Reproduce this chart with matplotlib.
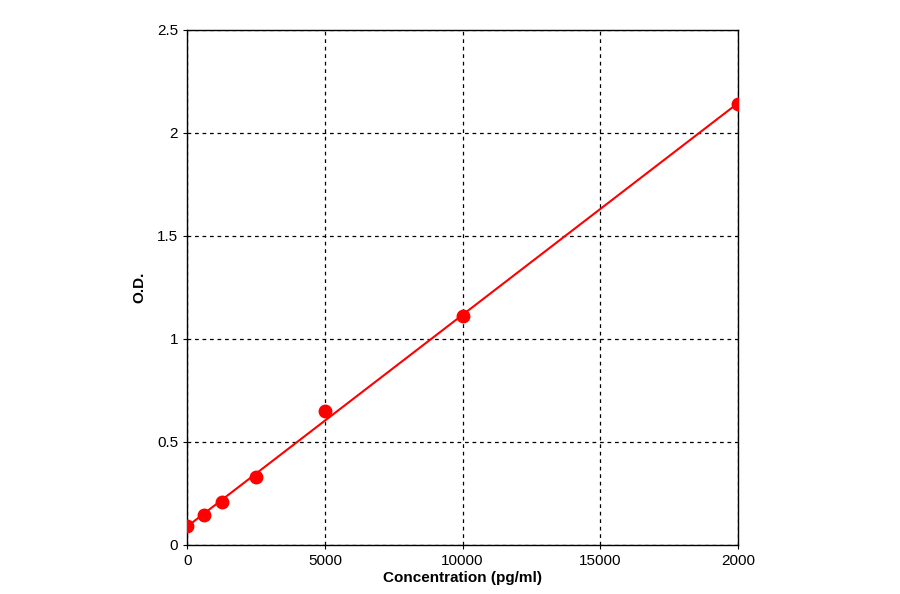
import matplotlib
matplotlib.use("Agg")
import matplotlib.pyplot as plt
import numpy as np

conc = [0, 625, 1250, 2500, 5000, 10000, 20000]
od = [0.09, 0.145, 0.21, 0.33, 0.65, 1.11, 2.14]
xticks = [0, 5000, 10000, 15000, 20000]
xticklabels = ["0", "5000", "10000", "15000", "2000"]
yticks = [0, 0.5, 1, 1.5, 2, 2.5]
yticklabels = ["0", "0.5", "1", "1.5", "2", "2.5"]

plt.rcParams['font.family'] = ['Liberation Sans', 'DejaVu Sans']
fig = plt.figure(figsize=(9, 5.94), dpi=100)
ax = fig.add_axes([0.208, 0.0825, 0.612, 0.867])

coef = np.polyfit(conc, od, 1)
xs = np.linspace(0, 20000, 50)
ax.plot(xs, np.polyval(coef, xs), color='red', lw=1.5, zorder=3)
ax.plot(conc, od, 'o', color='red', ms=9, zorder=4)

ax.set_xlim(0, 20000)
ax.set_ylim(0, 2.5)
ax.set_xticks(xticks)
ax.set_xticklabels(xticklabels)
ax.set_yticks(yticks)
ax.set_yticklabels(yticklabels)
ax.grid(True, color='black', linestyle=(0, (3, 3)), lw=0.9)
ax.tick_params(labelsize=11, direction='out', length=3)
for s in ax.spines.values():
    s.set_linewidth(1)
ax.set_xlabel("Concentration (pg/ml)", fontsize=11, fontweight='bold', labelpad=2)
ax.set_ylabel("O.D.", fontsize=11, fontweight='bold', labelpad=8)

fig.savefig("out.png", dpi=100)
